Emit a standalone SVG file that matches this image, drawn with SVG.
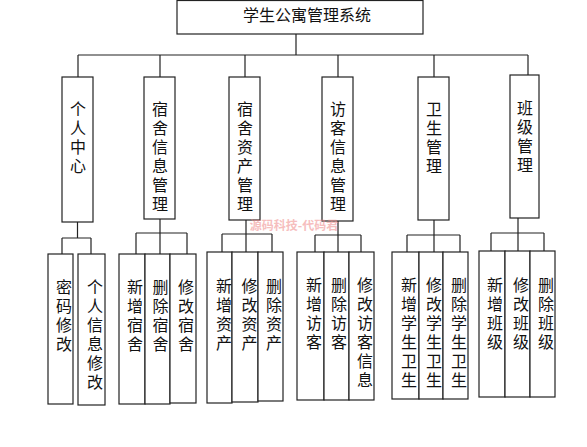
<svg xmlns="http://www.w3.org/2000/svg" width="587" height="447" viewBox="0 0 587 447">
<style>
.box{fill:#fff;stroke:#222;stroke-width:1.2}
.ln{fill:none;stroke:#222;stroke-width:1.2}
.t{font-family:"Noto Sans CJK SC","Noto Sans",sans-serif;font-size:16px;fill:#111;text-anchor:middle}
.v{font-family:"Noto Sans CJK SC","Noto Sans",sans-serif;font-size:16px;fill:#111;writing-mode:vertical-rl;letter-spacing:3px}
.wm{font-family:"Noto Sans CJK SC",sans-serif;font-size:12px;font-weight:bold;fill:#f08a8a;opacity:0.55;text-anchor:middle}
</style>
<rect width="587" height="447" fill="#fff"/>
<g id="connectors">
<path class="ln" d="M296 34V55M78 55H528M78 55V77M160 55V77M245 55V77M338 55V77M434 55V77M528 55V75"/>
<path class="ln" d="M77.5 222V238M62 238H91M62 238V254M91 238V254"/>
<path class="ln" d="M160 219V254M136 233H187M136 233V254M187 233V254"/>
<path class="ln" d="M246 220V252M222 234H272M222 234V252M272 234V252"/>
<path class="ln" d="M338 221V252M315 235H361M315 235V252M361 235V252"/>
<path class="ln" d="M434 220V252M407 235H460M407 235V252M460 235V252"/>
<path class="ln" d="M518 218V251M491 233H544M491 233V251M544 233V251"/>
</g>
<g id="root"><rect class="box" x="177" y="0.5" width="246" height="33.5"/><text class="t" x="307" y="21">学生公寓管理系统</text></g>
<g id="n1"><rect class="box" x="62" y="77" width="31" height="145"/><text class="v" x="78" y="101">个人中心</text></g>
<g id="n2"><rect class="box" x="144" y="77" width="31" height="142"/><text class="v" x="160" y="101">宿舍信息管理</text></g>
<g id="n3"><rect class="box" x="229" y="77" width="31" height="143"/><text class="v" x="245" y="101">宿舍资产管理</text></g>
<g id="n4"><rect class="box" x="322" y="77" width="31" height="144"/><text class="v" x="338" y="101">访客信息管理</text></g>
<g id="n5"><rect class="box" x="418" y="77" width="31" height="143"/><text class="v" x="434" y="101">卫生管理</text></g>
<g id="n6"><rect class="box" x="510" y="75" width="29" height="143"/><text class="v" x="525" y="100">班级管理</text></g>
<g id="c11"><rect class="box" x="48" y="254" width="25" height="150"/><text class="v" x="64" y="279">密码修改</text></g>
<g id="c12"><rect class="box" x="78" y="254" width="27" height="151"/><text class="v" x="95" y="279">个人信息修改</text></g>
<g id="c21"><rect class="box" x="119" y="254" width="26" height="150"/><text class="v" x="135" y="279">新增宿舍</text></g>
<g id="c22"><rect class="box" x="145" y="254" width="25" height="150"/><text class="v" x="160.5" y="279">删除宿舍</text></g>
<g id="c23"><rect class="box" x="170" y="254" width="26" height="149"/><text class="v" x="186" y="279">修改宿舍</text></g>
<g id="c31"><rect class="box" x="207" y="252" width="25" height="151"/><text class="v" x="224" y="278">新增资产</text></g>
<g id="c32"><rect class="box" x="232" y="252" width="26" height="150"/><text class="v" x="249.5" y="278">修改资产</text></g>
<g id="c33"><rect class="box" x="258" y="252" width="25" height="149"/><text class="v" x="274" y="278">删除资产</text></g>
<g id="c41"><rect class="box" x="297" y="252" width="27" height="148"/><text class="v" x="314" y="277">新增访客</text></g>
<g id="c42"><rect class="box" x="324" y="252" width="25" height="148"/><text class="v" x="339" y="277">删除访客</text></g>
<g id="c43"><rect class="box" x="349" y="252" width="25" height="148"/><text class="v" x="365" y="277">修改访客信息</text></g>
<g id="c51"><rect class="box" x="392" y="252" width="27" height="147"/><text class="v" x="409" y="277">新增学生卫生</text></g>
<g id="c52"><rect class="box" x="419" y="252" width="24" height="147"/><text class="v" x="434" y="277">修改学生卫生</text></g>
<g id="c53"><rect class="box" x="443" y="252" width="25" height="147"/><text class="v" x="459" y="277">删除学生卫生</text></g>
<g id="c61"><rect class="box" x="479" y="251" width="26" height="146"/><text class="v" x="495" y="277">新增班级</text></g>
<g id="c62"><rect class="box" x="505" y="251" width="25" height="146"/><text class="v" x="521" y="277">修改班级</text></g>
<g id="c63"><rect class="box" x="530" y="251" width="25" height="146"/><text class="v" x="546" y="277">删除班级</text></g>
<text class="wm" x="294" y="230">源码科技-代码君</text>
</svg>
